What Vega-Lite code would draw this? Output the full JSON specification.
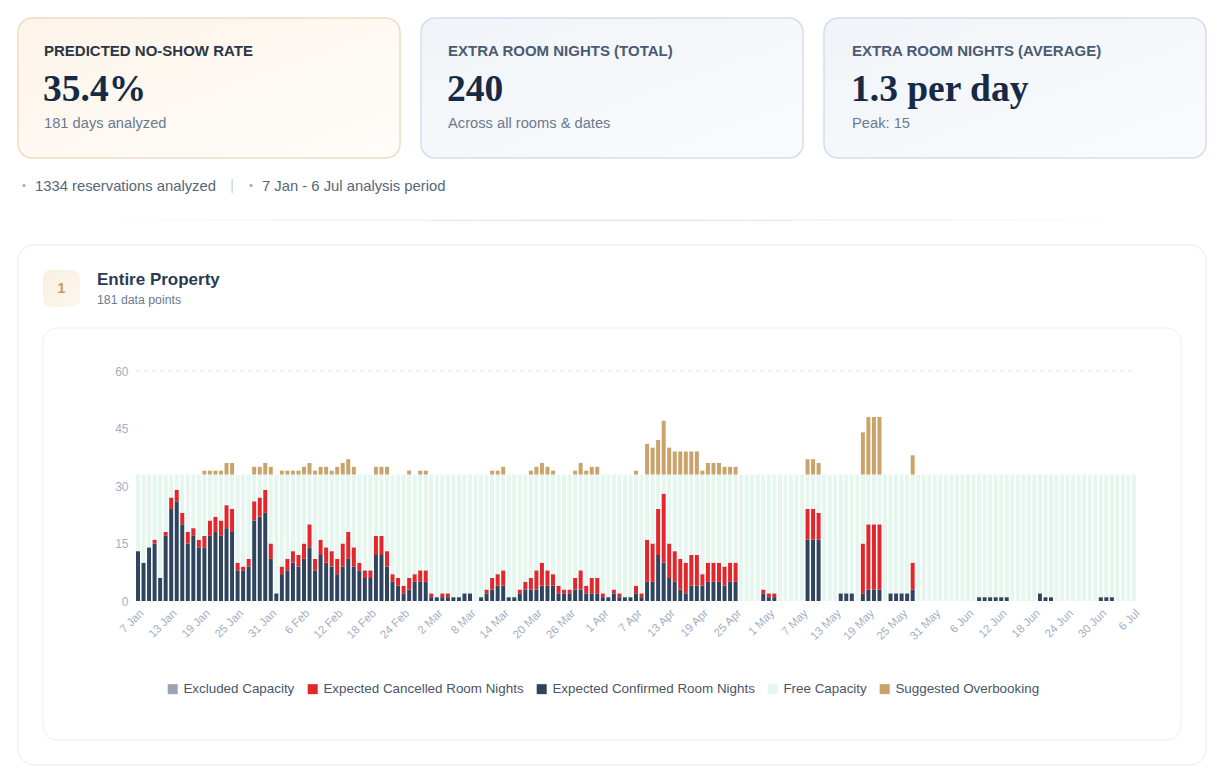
{
  "$schema": "https://vega.github.io/schema/vega-lite/v6.json",
  "width": 1224,
  "height": 768,
  "autosize": {"type": "none"},
  "padding": 0,
  "background": "#ffffff",
  "config": {"view": {"stroke": null}, "font": "Liberation Sans"},
  "layer": [
    {
      "data": {"values": [{}]},
      "mark": {"type": "rect", "cornerRadius": 14, "strokeWidth": 1.5, "stroke": "#efdcc2",
        "fill": {"gradient": "linear", "x1": 0, "y1": 0, "x2": 1, "y2": 1, "stops": [{"offset": 0, "color": "#fcf4e9"}, {"offset": 1, "color": "#fffdfa"}]}},
      "encoding": {"x": {"value": 18}, "x2": {"value": 400}, "y": {"value": 18}, "y2": {"value": 158}}
    },
    {
      "data": {"values": [{}]},
      "mark": {"type": "rect", "cornerRadius": 14, "strokeWidth": 1.5, "stroke": "#d4deea",
        "fill": {"gradient": "linear", "x1": 0, "y1": 0, "x2": 1, "y2": 1, "stops": [{"offset": 0, "color": "#f0f4f8"}, {"offset": 1, "color": "#fafbfd"}]}},
      "encoding": {"x": {"value": 421}, "x2": {"value": 803}, "y": {"value": 18}, "y2": {"value": 158}}
    },
    {
      "data": {"values": [{}]},
      "mark": {"type": "rect", "cornerRadius": 14, "strokeWidth": 1.5, "stroke": "#d4deea",
        "fill": {"gradient": "linear", "x1": 0, "y1": 0, "x2": 1, "y2": 1, "stops": [{"offset": 0, "color": "#f0f4f8"}, {"offset": 1, "color": "#fafbfd"}]}},
      "encoding": {"x": {"value": 824}, "x2": {"value": 1206}, "y": {"value": 18}, "y2": {"value": 158}}
    },
    {
      "data": {"values": [{"label": "PREDICTED NO-SHOW RATE"}]},
      "mark": {"type": "text", "align": "left", "baseline": "middle", "fontSize": 15, "fontWeight": "bold", "letterSpacing": 0.7, "color": "#2b3546"},
      "encoding": {"x": {"value": 44}, "y": {"value": 51}, "text": {"field": "label"}}
    },
    {
      "data": {"values": [{"label": "EXTRA ROOM NIGHTS (TOTAL)"}]},
      "mark": {"type": "text", "align": "left", "baseline": "middle", "fontSize": 15, "fontWeight": "bold", "letterSpacing": 0.7, "color": "#4a5b73"},
      "encoding": {"x": {"value": 448}, "y": {"value": 51}, "text": {"field": "label"}}
    },
    {
      "data": {"values": [{"label": "EXTRA ROOM NIGHTS (AVERAGE)"}]},
      "mark": {"type": "text", "align": "left", "baseline": "middle", "fontSize": 15, "fontWeight": "bold", "letterSpacing": 0.7, "color": "#4a5b73"},
      "encoding": {"x": {"value": 852}, "y": {"value": 51}, "text": {"field": "label"}}
    },
    {
      "data": {"values": [{"v": "35.4%"}]},
      "mark": {"type": "text", "align": "left", "baseline": "alphabetic", "font": "Liberation Serif", "fontSize": 37.5, "fontWeight": "bold", "color": "#172a45"},
      "encoding": {"x": {"value": 43}, "y": {"value": 101}, "text": {"field": "v"}}
    },
    {
      "data": {"values": [{"v": "240"}]},
      "mark": {"type": "text", "align": "left", "baseline": "alphabetic", "font": "Liberation Serif", "fontSize": 37.5, "fontWeight": "bold", "color": "#172a45"},
      "encoding": {"x": {"value": 447}, "y": {"value": 101}, "text": {"field": "v"}}
    },
    {
      "data": {"values": [{"v": "1.3 per day"}]},
      "mark": {"type": "text", "align": "left", "baseline": "alphabetic", "font": "Liberation Serif", "fontSize": 37.5, "fontWeight": "bold", "color": "#172a45"},
      "encoding": {"x": {"value": 851}, "y": {"value": 101}, "text": {"field": "v"}}
    },
    {
      "data": {"values": [{"v": "181 days analyzed"}]},
      "mark": {"type": "text", "align": "left", "baseline": "middle", "fontSize": 14.7, "color": "#6b7a90"},
      "encoding": {"x": {"value": 44}, "y": {"value": 124}, "text": {"field": "v"}}
    },
    {
      "data": {"values": [{"v": "Across all rooms & dates"}]},
      "mark": {"type": "text", "align": "left", "baseline": "middle", "fontSize": 14.7, "color": "#6b7a90"},
      "encoding": {"x": {"value": 448}, "y": {"value": 124}, "text": {"field": "v"}}
    },
    {
      "data": {"values": [{"v": "Peak: 15"}]},
      "mark": {"type": "text", "align": "left", "baseline": "middle", "fontSize": 14.7, "color": "#6b7a90"},
      "encoding": {"x": {"value": 852}, "y": {"value": 124}, "text": {"field": "v"}}
    },
    {
      "data": {"values": [{"v": "•"}]},
      "mark": {"type": "text", "align": "center", "baseline": "middle", "fontSize": 11, "color": "#9aa6b6"},
      "encoding": {"x": {"value": 24}, "y": {"value": 186}, "text": {"field": "v"}}
    },
    {
      "data": {"values": [{"v": "1334 reservations analyzed"}]},
      "mark": {"type": "text", "align": "left", "baseline": "middle", "fontSize": 14.8, "color": "#56657a"},
      "encoding": {"x": {"value": 35}, "y": {"value": 186.5}, "text": {"field": "v"}}
    },
    {
      "data": {"values": [{"v": "|"}]},
      "mark": {"type": "text", "align": "center", "baseline": "middle", "fontSize": 14, "color": "#c9d1dc"},
      "encoding": {"x": {"value": 232}, "y": {"value": 186}, "text": {"field": "v"}}
    },
    {
      "data": {"values": [{"v": "•"}]},
      "mark": {"type": "text", "align": "center", "baseline": "middle", "fontSize": 11, "color": "#9aa6b6"},
      "encoding": {"x": {"value": 251}, "y": {"value": 186}, "text": {"field": "v"}}
    },
    {
      "data": {"values": [{"v": "7 Jan - 6 Jul analysis period"}]},
      "mark": {"type": "text", "align": "left", "baseline": "middle", "fontSize": 14.8, "color": "#56657a"},
      "encoding": {"x": {"value": 262}, "y": {"value": 186.5}, "text": {"field": "v"}}
    },
    {
      "data": {"values": [{}]},
      "mark": {"type": "rect",
        "fill": {"gradient": "linear", "x1": 0, "y1": 0, "x2": 1, "y2": 0, "stops": [{"offset": 0, "color": "#ffffff"}, {"offset": 0.5, "color": "#e1e6ec"}, {"offset": 1, "color": "#ffffff"}]}},
      "encoding": {"x": {"value": 80}, "x2": {"value": 1144}, "y": {"value": 219.5}, "y2": {"value": 221}}
    },
    {
      "data": {"values": [{}]},
      "mark": {"type": "rect", "cornerRadius": 16, "strokeWidth": 1, "stroke": "#e6ebf0", "fill": "#ffffff"},
      "encoding": {"x": {"value": 18}, "x2": {"value": 1206}, "y": {"value": 245}, "y2": {"value": 765}}
    },
    {
      "data": {"values": [{}]},
      "mark": {"type": "rect", "cornerRadius": 8,
        "fill": {"gradient": "linear", "x1": 0, "y1": 0, "x2": 1, "y2": 1, "stops": [{"offset": 0, "color": "#f9efe0"}, {"offset": 1, "color": "#fcf7ef"}]}},
      "encoding": {"x": {"value": 43}, "x2": {"value": 80}, "y": {"value": 270}, "y2": {"value": 307}}
    },
    {
      "data": {"values": [{"v": "1"}]},
      "mark": {"type": "text", "align": "center", "baseline": "middle", "fontSize": 14, "fontWeight": "bold", "color": "#c49a5c"},
      "encoding": {"x": {"value": 61.5}, "y": {"value": 289}, "text": {"field": "v"}}
    },
    {
      "data": {"values": [{"v": "Entire Property"}]},
      "mark": {"type": "text", "align": "left", "baseline": "middle", "fontSize": 17, "fontWeight": "bold", "color": "#2a3a55"},
      "encoding": {"x": {"value": 97}, "y": {"value": 280}, "text": {"field": "v"}}
    },
    {
      "data": {"values": [{"v": "181 data points"}]},
      "mark": {"type": "text", "align": "left", "baseline": "middle", "fontSize": 12.3, "color": "#6b7a90"},
      "encoding": {"x": {"value": 97}, "y": {"value": 300}, "text": {"field": "v"}}
    },
    {
      "data": {"values": [{}]},
      "mark": {"type": "rect", "cornerRadius": 14, "strokeWidth": 1, "stroke": "#edf1f5", "fill": "#ffffff"},
      "encoding": {"x": {"value": 43}, "x2": {"value": 1181}, "y": {"value": 328}, "y2": {"value": 740}}
    },
    {
      "data": {"values": [{}]},
      "mark": {"type": "rule", "stroke": "#dfe4ea", "strokeWidth": 1, "strokeDash": [4, 4]},
      "encoding": {"x": {"value": 136}, "x2": {"value": 1136}, "y": {"datum": 60, "type": "quantitative"}}
    },
    {
      "data": {"values": [
        {"t":"7 Jan","a":13,"b":0,"c":20,"d":0},
        {"t":"8 Jan","a":10,"b":0,"c":23,"d":0},
        {"t":"9 Jan","a":14,"b":0,"c":19,"d":0},
        {"t":"10 Jan","a":15,"b":1,"c":17,"d":0},
        {"t":"11 Jan","a":6,"b":0,"c":27,"d":0},
        {"t":"12 Jan","a":17,"b":1,"c":15,"d":0},
        {"t":"13 Jan","a":24,"b":3,"c":6,"d":0},
        {"t":"14 Jan","a":26,"b":3,"c":4,"d":0},
        {"t":"15 Jan","a":20,"b":3,"c":10,"d":0},
        {"t":"16 Jan","a":15,"b":3,"c":15,"d":0},
        {"t":"17 Jan","a":17,"b":2,"c":14,"d":0},
        {"t":"18 Jan","a":14,"b":2,"c":17,"d":0},
        {"t":"19 Jan","a":14,"b":3,"c":16,"d":1},
        {"t":"20 Jan","a":17,"b":4,"c":12,"d":1},
        {"t":"21 Jan","a":18,"b":4,"c":11,"d":1},
        {"t":"22 Jan","a":17,"b":4,"c":12,"d":1},
        {"t":"23 Jan","a":19,"b":6,"c":8,"d":3},
        {"t":"24 Jan","a":18,"b":6,"c":9,"d":3},
        {"t":"25 Jan","a":8,"b":2,"c":23,"d":0},
        {"t":"26 Jan","a":8,"b":1,"c":24,"d":0},
        {"t":"27 Jan","a":9,"b":2,"c":22,"d":0},
        {"t":"28 Jan","a":21,"b":5,"c":7,"d":2},
        {"t":"29 Jan","a":22,"b":5,"c":6,"d":2},
        {"t":"30 Jan","a":23,"b":6,"c":4,"d":3},
        {"t":"31 Jan","a":11,"b":4,"c":18,"d":2},
        {"t":"1 Feb","a":2,"b":0,"c":31,"d":0},
        {"t":"2 Feb","a":7,"b":2,"c":24,"d":1},
        {"t":"3 Feb","a":8,"b":3,"c":22,"d":1},
        {"t":"4 Feb","a":10,"b":3,"c":20,"d":1},
        {"t":"5 Feb","a":9,"b":3,"c":21,"d":1},
        {"t":"6 Feb","a":11,"b":4,"c":18,"d":2},
        {"t":"7 Feb","a":14,"b":6,"c":13,"d":3},
        {"t":"8 Feb","a":8,"b":3,"c":22,"d":1},
        {"t":"9 Feb","a":12,"b":4,"c":17,"d":2},
        {"t":"10 Feb","a":10,"b":4,"c":19,"d":2},
        {"t":"11 Feb","a":9,"b":4,"c":20,"d":1},
        {"t":"12 Feb","a":7,"b":4,"c":22,"d":2},
        {"t":"13 Feb","a":9,"b":6,"c":18,"d":3},
        {"t":"14 Feb","a":11,"b":7,"c":15,"d":4},
        {"t":"15 Feb","a":9,"b":5,"c":19,"d":2},
        {"t":"16 Feb","a":8,"b":2,"c":23,"d":0},
        {"t":"17 Feb","a":6,"b":2,"c":25,"d":0},
        {"t":"18 Feb","a":6,"b":2,"c":25,"d":0},
        {"t":"19 Feb","a":12,"b":5,"c":16,"d":2},
        {"t":"20 Feb","a":12,"b":5,"c":16,"d":2},
        {"t":"21 Feb","a":9,"b":4,"c":20,"d":2},
        {"t":"22 Feb","a":5,"b":2,"c":26,"d":0},
        {"t":"23 Feb","a":4,"b":2,"c":27,"d":0},
        {"t":"24 Feb","a":2,"b":2,"c":29,"d":0},
        {"t":"25 Feb","a":3,"b":3,"c":27,"d":1},
        {"t":"26 Feb","a":5,"b":2,"c":26,"d":0},
        {"t":"27 Feb","a":5,"b":3,"c":25,"d":1},
        {"t":"28 Feb","a":5,"b":3,"c":25,"d":1},
        {"t":"1 Mar","a":1,"b":1,"c":31,"d":0},
        {"t":"2 Mar","a":1,"b":0,"c":32,"d":0},
        {"t":"3 Mar","a":1,"b":1,"c":31,"d":0},
        {"t":"4 Mar","a":1,"b":1,"c":31,"d":0},
        {"t":"5 Mar","a":1,"b":0,"c":32,"d":0},
        {"t":"6 Mar","a":1,"b":0,"c":32,"d":0},
        {"t":"7 Mar","a":2,"b":0,"c":31,"d":0},
        {"t":"8 Mar","a":2,"b":0,"c":31,"d":0},
        {"t":"9 Mar","a":0,"b":0,"c":33,"d":0},
        {"t":"10 Mar","a":1,"b":0,"c":32,"d":0},
        {"t":"11 Mar","a":2,"b":1,"c":30,"d":0},
        {"t":"12 Mar","a":3,"b":3,"c":27,"d":1},
        {"t":"13 Mar","a":4,"b":3,"c":26,"d":1},
        {"t":"14 Mar","a":4,"b":4,"c":25,"d":2},
        {"t":"15 Mar","a":1,"b":0,"c":32,"d":0},
        {"t":"16 Mar","a":1,"b":0,"c":32,"d":0},
        {"t":"17 Mar","a":2,"b":1,"c":30,"d":0},
        {"t":"18 Mar","a":3,"b":2,"c":28,"d":0},
        {"t":"19 Mar","a":3,"b":3,"c":27,"d":1},
        {"t":"20 Mar","a":3,"b":5,"c":25,"d":2},
        {"t":"21 Mar","a":4,"b":6,"c":23,"d":3},
        {"t":"22 Mar","a":4,"b":4,"c":25,"d":2},
        {"t":"23 Mar","a":4,"b":3,"c":26,"d":1},
        {"t":"24 Mar","a":2,"b":2,"c":29,"d":0},
        {"t":"25 Mar","a":2,"b":1,"c":30,"d":0},
        {"t":"26 Mar","a":2,"b":1,"c":30,"d":0},
        {"t":"27 Mar","a":3,"b":3,"c":27,"d":1},
        {"t":"28 Mar","a":3,"b":5,"c":25,"d":3},
        {"t":"29 Mar","a":2,"b":2,"c":29,"d":1},
        {"t":"30 Mar","a":2,"b":4,"c":27,"d":2},
        {"t":"31 Mar","a":2,"b":4,"c":27,"d":2},
        {"t":"1 Apr","a":1,"b":1,"c":31,"d":0},
        {"t":"2 Apr","a":1,"b":0,"c":32,"d":0},
        {"t":"3 Apr","a":2,"b":1,"c":30,"d":0},
        {"t":"4 Apr","a":1,"b":1,"c":31,"d":0},
        {"t":"5 Apr","a":1,"b":0,"c":32,"d":0},
        {"t":"6 Apr","a":1,"b":0,"c":32,"d":0},
        {"t":"7 Apr","a":2,"b":2,"c":29,"d":1},
        {"t":"8 Apr","a":1,"b":1,"c":31,"d":0},
        {"t":"9 Apr","a":5,"b":11,"c":17,"d":8},
        {"t":"10 Apr","a":5,"b":10,"c":18,"d":7},
        {"t":"11 Apr","a":12,"b":12,"c":9,"d":9},
        {"t":"12 Apr","a":10,"b":18,"c":5,"d":14},
        {"t":"13 Apr","a":6,"b":9,"c":18,"d":7},
        {"t":"14 Apr","a":5,"b":8,"c":20,"d":6},
        {"t":"15 Apr","a":3,"b":8,"c":22,"d":6},
        {"t":"16 Apr","a":2,"b":8,"c":23,"d":6},
        {"t":"17 Apr","a":4,"b":8,"c":21,"d":6},
        {"t":"18 Apr","a":4,"b":8,"c":21,"d":6},
        {"t":"19 Apr","a":4,"b":3,"c":26,"d":1},
        {"t":"20 Apr","a":5,"b":5,"c":23,"d":3},
        {"t":"21 Apr","a":5,"b":5,"c":23,"d":3},
        {"t":"22 Apr","a":5,"b":5,"c":23,"d":3},
        {"t":"23 Apr","a":4,"b":5,"c":24,"d":2},
        {"t":"24 Apr","a":5,"b":5,"c":23,"d":2},
        {"t":"25 Apr","a":5,"b":5,"c":23,"d":2},
        {"t":"26 Apr","a":0,"b":0,"c":33,"d":0},
        {"t":"27 Apr","a":0,"b":0,"c":33,"d":0},
        {"t":"28 Apr","a":0,"b":0,"c":33,"d":0},
        {"t":"29 Apr","a":0,"b":0,"c":33,"d":0},
        {"t":"30 Apr","a":2,"b":1,"c":30,"d":0},
        {"t":"1 May","a":1,"b":1,"c":31,"d":0},
        {"t":"2 May","a":1,"b":1,"c":31,"d":0},
        {"t":"3 May","a":0,"b":0,"c":33,"d":0},
        {"t":"4 May","a":0,"b":0,"c":33,"d":0},
        {"t":"5 May","a":0,"b":0,"c":33,"d":0},
        {"t":"6 May","a":0,"b":0,"c":33,"d":0},
        {"t":"7 May","a":0,"b":0,"c":33,"d":0},
        {"t":"8 May","a":16,"b":8,"c":9,"d":4},
        {"t":"9 May","a":16,"b":8,"c":9,"d":4},
        {"t":"10 May","a":16,"b":7,"c":10,"d":3},
        {"t":"11 May","a":0,"b":0,"c":33,"d":0},
        {"t":"12 May","a":0,"b":0,"c":33,"d":0},
        {"t":"13 May","a":0,"b":0,"c":33,"d":0},
        {"t":"14 May","a":2,"b":0,"c":31,"d":0},
        {"t":"15 May","a":2,"b":0,"c":31,"d":0},
        {"t":"16 May","a":2,"b":0,"c":31,"d":0},
        {"t":"17 May","a":0,"b":0,"c":33,"d":0},
        {"t":"18 May","a":2,"b":13,"c":18,"d":11},
        {"t":"19 May","a":3,"b":17,"c":13,"d":15},
        {"t":"20 May","a":3,"b":17,"c":13,"d":15},
        {"t":"21 May","a":3,"b":17,"c":13,"d":15},
        {"t":"22 May","a":0,"b":0,"c":33,"d":0},
        {"t":"23 May","a":2,"b":0,"c":31,"d":0},
        {"t":"24 May","a":2,"b":0,"c":31,"d":0},
        {"t":"25 May","a":2,"b":0,"c":31,"d":0},
        {"t":"26 May","a":2,"b":0,"c":31,"d":0},
        {"t":"27 May","a":3,"b":7,"c":23,"d":5},
        {"t":"28 May","a":0,"b":0,"c":33,"d":0},
        {"t":"29 May","a":0,"b":0,"c":33,"d":0},
        {"t":"30 May","a":0,"b":0,"c":33,"d":0},
        {"t":"31 May","a":0,"b":0,"c":33,"d":0},
        {"t":"1 Jun","a":0,"b":0,"c":33,"d":0},
        {"t":"2 Jun","a":0,"b":0,"c":33,"d":0},
        {"t":"3 Jun","a":0,"b":0,"c":33,"d":0},
        {"t":"4 Jun","a":0,"b":0,"c":33,"d":0},
        {"t":"5 Jun","a":0,"b":0,"c":33,"d":0},
        {"t":"6 Jun","a":0,"b":0,"c":33,"d":0},
        {"t":"7 Jun","a":0,"b":0,"c":33,"d":0},
        {"t":"8 Jun","a":1,"b":0,"c":32,"d":0},
        {"t":"9 Jun","a":1,"b":0,"c":32,"d":0},
        {"t":"10 Jun","a":1,"b":0,"c":32,"d":0},
        {"t":"11 Jun","a":1,"b":0,"c":32,"d":0},
        {"t":"12 Jun","a":1,"b":0,"c":32,"d":0},
        {"t":"13 Jun","a":1,"b":0,"c":32,"d":0},
        {"t":"14 Jun","a":0,"b":0,"c":33,"d":0},
        {"t":"15 Jun","a":0,"b":0,"c":33,"d":0},
        {"t":"16 Jun","a":0,"b":0,"c":33,"d":0},
        {"t":"17 Jun","a":0,"b":0,"c":33,"d":0},
        {"t":"18 Jun","a":0,"b":0,"c":33,"d":0},
        {"t":"19 Jun","a":2,"b":0,"c":31,"d":0},
        {"t":"20 Jun","a":1,"b":0,"c":32,"d":0},
        {"t":"21 Jun","a":1,"b":0,"c":32,"d":0},
        {"t":"22 Jun","a":0,"b":0,"c":33,"d":0},
        {"t":"23 Jun","a":0,"b":0,"c":33,"d":0},
        {"t":"24 Jun","a":0,"b":0,"c":33,"d":0},
        {"t":"25 Jun","a":0,"b":0,"c":33,"d":0},
        {"t":"26 Jun","a":0,"b":0,"c":33,"d":0},
        {"t":"27 Jun","a":0,"b":0,"c":33,"d":0},
        {"t":"28 Jun","a":0,"b":0,"c":33,"d":0},
        {"t":"29 Jun","a":0,"b":0,"c":33,"d":0},
        {"t":"30 Jun","a":1,"b":0,"c":32,"d":0},
        {"t":"1 Jul","a":1,"b":0,"c":32,"d":0},
        {"t":"2 Jul","a":1,"b":0,"c":32,"d":0},
        {"t":"3 Jul","a":0,"b":0,"c":33,"d":0},
        {"t":"4 Jul","a":0,"b":0,"c":33,"d":0},
        {"t":"5 Jul","a":0,"b":0,"c":33,"d":0},
        {"t":"6 Jul","a":0,"b":0,"c":33,"d":0}
      ]},
      "transform": [{"fold": ["a", "b", "c", "d"], "as": ["key", "val"]}],
      "mark": {"type": "bar"},
      "encoding": {
        "x": {
          "field": "t", "type": "ordinal", "sort": null,
          "scale": {"range": [136, 1136], "paddingInner": 0.28, "paddingOuter": 0},
          "axis": {
            "title": null, "domain": false, "ticks": false, "grid": false, "zindex": 1,
            "values": ["7 Jan","13 Jan","19 Jan","25 Jan","31 Jan","6 Feb","12 Feb","18 Feb","24 Feb","2 Mar","8 Mar","14 Mar","20 Mar","26 Mar","1 Apr","7 Apr","13 Apr","19 Apr","25 Apr","1 May","7 May","13 May","19 May","25 May","31 May","6 Jun","12 Jun","18 Jun","24 Jun","30 Jun","6 Jul"],
            "labelAngle": -45, "labelPadding": 6, "offset": -167, "labelOverlap": false,
            "labelFontSize": 11.5, "labelColor": "#a3aec2"
          }
        },
        "y": {
          "field": "val", "type": "quantitative", "stack": "zero",
          "scale": {"domain": [0, 60], "range": [601, 371], "nice": false},
          "axis": {
            "title": null, "domain": false, "ticks": false, "grid": false, "zindex": 1,
            "values": [0, 15, 30, 45, 60], "labelPadding": 0, "offset": -128,
            "labelFontSize": 12, "labelColor": "#a3aec2"
          }
        },
        "color": {
          "field": "key", "type": "nominal",
          "scale": {"domain": ["e", "b", "a", "c", "d"], "range": ["#9ca4b2", "#e2262c", "#2f455f", "#e4f6ee", "#c9a36a"]},
          "legend": {
            "orient": "none", "legendX": 166, "legendY": 682, "direction": "horizontal", "columns": 5, "zindex": 1,
            "title": null, "symbolType": "square", "symbolSize": 100, "symbolStrokeWidth": 0,
            "labelFontSize": 13.4, "labelColor": "#4a5568", "labelOffset": 4, "columnPadding": 11, "labelLimit": 400,
            "labelExpr": "datum.label == 'a' ? 'Expected Confirmed Room Nights' : datum.label == 'b' ? 'Expected Cancelled Room Nights' : datum.label == 'c' ? 'Free Capacity' : datum.label == 'd' ? 'Suggested Overbooking' : 'Excluded Capacity'"
          }
        },
        "order": {"field": "key", "type": "nominal", "sort": "ascending"}
      }
    }
  ]
}
